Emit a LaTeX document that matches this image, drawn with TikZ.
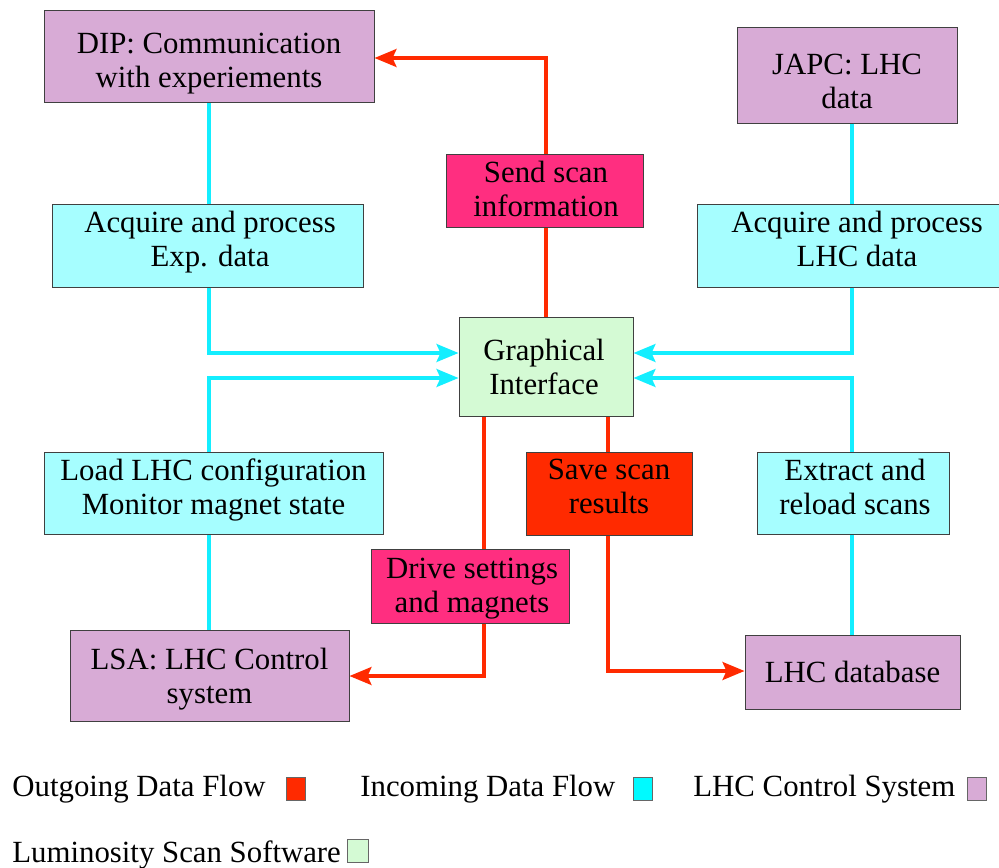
\documentclass[tikz,border=0pt]{standalone}
\usepackage{fontspec}
\setmainfont{Liberation Serif}
\usetikzlibrary{arrows.meta,calc}

\definecolor{cpurple}{RGB}{216,171,214}
\definecolor{ccyan}{RGB}{166,254,255}
\definecolor{cgreen}{RGB}{212,250,212}
\definecolor{cpink}{RGB}{255,46,128}
\definecolor{cred}{RGB}{255,42,0}
\definecolor{cline}{RGB}{20,238,255}
\definecolor{cleg}{RGB}{0,250,255}
\tikzset{
  scanfig/.style={x=0.5pt,y=-0.5pt,font=\fontsize{15.4}{17}\selectfont},
  box/.style={draw=black!75,line width=0.5pt,inner sep=0pt},
  txt/.style={align=center,inner sep=0pt},
  outflow/.style={cred,line width=1.6pt},
  inflow/.style={cline,line width=1.6pt},
  tip/.style={-{Stealth[length=11pt,width=9pt,inset=2pt]}},
  legbox/.style={draw=black!60,line width=0.4pt,inner sep=0pt,minimum width=9.5pt,minimum height=11.5pt}
}
\newcommand{\two}[2]{\strut #1\\#2\strut}

\begin{document}
\begin{tikzpicture}[scanfig]
    \useasboundingbox (0,0) rectangle (999,867);
    % control system boxes
    \node[box,fill=cpurple,minimum width=165pt,minimum height=46pt] (dip) at (209,56.5) {};
    \node[txt] (diptext) at (209,63.5) {\two{DIP: Communication}{with experiements}};
    \node[box,fill=cpurple,minimum width=110pt,minimum height=48pt] (japc) at (847,75) {};
    \node[txt] (japctext) at (847,85) {\two{JAPC: LHC}{data}};
    \node[box,fill=cpurple,minimum width=139.5pt,minimum height=45.5pt] (lsa) at (209.5,676) {};
    \node[txt] (lsatext) at (209.5,680) {\two{LSA: LHC Control}{system}};
    \node[box,fill=cpurple,minimum width=107.5pt,minimum height=37pt] (db) at (852.5,672) {};
    \node[txt] (dbtext) at (852.5,676) {\strut LHC database};
    % incoming data
    \node[box,fill=ccyan,minimum width=155.5pt,minimum height=41.5pt] (acqexp) at (207.5,245.5) {};
    \node[txt] (acqexptext) at (210,242.5) {\two{Acquire and process}{Exp. data}};
    \node[box,fill=ccyan,minimum width=160pt,minimum height=41.5pt] (acqlhc) at (857,245.5) {};
    \node[txt] (acqlhctext) at (857,242.5) {\two{Acquire and process}{LHC data}};
    \node[box,fill=ccyan,minimum width=169.5pt,minimum height=41pt] (load) at (213.5,493) {};
    \node[txt] (loadtext) at (213.5,490.5) {\two{Load LHC configuration}{Monitor magnet state}};
    \node[box,fill=ccyan,minimum width=96pt,minimum height=41pt] (extract) at (853,493) {};
    \node[txt] (extracttext) at (855,490.5) {\two{Extract and}{reload scans}};
    % outgoing data
    \node[box,fill=cpink,minimum width=98.5pt,minimum height=36.5pt] (send) at (544.5,190.5) {};
    \node[txt] (sendtext) at (546,193) {\two{Send scan}{information}};
    \node[box,fill=cpink,minimum width=99pt,minimum height=37pt] (drive) at (470,586) {};
    \node[txt] (drivetext) at (472,589) {\two{Drive settings}{and magnets}};
    \node[box,fill=cred,minimum width=83pt,minimum height=41.5pt] (save) at (609,493.5) {};
    \node[txt] (savetext) at (609,490) {\two{Save scan}{results}};
    % scan software
    \node[box,fill=cgreen,minimum width=87pt,minimum height=49.5pt] (gi) at (546,366.5) {};
    \node[txt] (gitext) at (544,371) {\two{Graphical}{Interface}};

    \coordinate (lx) at (209,0);
    \coordinate (rx) at (852,0);
    \coordinate (gwa) at ($(gi.west)+(0,-13.5)$);
    \coordinate (gwb) at ($(gi.west)+(0,11.5)$);
    \coordinate (gea) at ($(gi.east)+(0,-13.5)$);
    \coordinate (geb) at ($(gi.east)+(0,11.5)$);
    \coordinate (gsa) at ($(gi.south)+(-62,0)$);
    \coordinate (gsb) at ($(gi.south)+(62,0)$);

    % incoming flows
    \draw[inflow] (dip.south -| lx) -- (acqexp.north -| lx);
    \draw[inflow,tip] (acqexp.south -| lx) |- (gwa);
    \draw[inflow] (lsa.north -| lx) -- (load.south -| lx);
    \draw[inflow,tip] (load.north -| lx) |- (gwb);
    \draw[inflow] (japc.south -| rx) -- (acqlhc.north -| rx);
    \draw[inflow,tip] (acqlhc.south -| rx) |- (gea);
    \draw[inflow] (db.north -| rx) -- (extract.south -| rx);
    \draw[inflow,tip] (extract.north -| rx) |- (geb);
    % outgoing flows
    \draw[outflow] (gi.north) -- (gi.north |- send.south);
    \draw[outflow,tip] (gi.north |- send.north) |- ($(dip.east)+(0,1.5)$);
    \draw[outflow] (gsa) -- (gsa |- drive.north);
    \draw[outflow,tip] (gsa |- drive.south) |- ($(lsa.east)+(0,0)$);
    \draw[outflow] (gsb) -- (gsb |- save.north);
    \draw[outflow,tip] (gsb |- save.south) |- ($(db.west)+(0,-1)$);

    % legend
    \node[anchor=west,inner sep=0pt] (legout) at (12,789) {Outgoing Data Flow};
    \node[legbox,fill=cred] (sqout) at (295.5,788.5) {};
    \node[anchor=west,inner sep=0pt] (legin) at (360,789) {Incoming Data Flow};
    \node[legbox,fill=cleg] (sqin) at (643,788.5) {};
    \node[anchor=west,inner sep=0pt] (legctl) at (693,789) {LHC Control System};
    \node[legbox,fill=cpurple] (sqctl) at (977,788.5) {};
    \node[anchor=west,inner sep=0pt] (legsw) at (12,855) {Luminosity Scan Software};
    \node[legbox,fill=cgreen,minimum width=10.5pt] (sqsw) at (357.5,851) {};
\end{tikzpicture}
\end{document}
